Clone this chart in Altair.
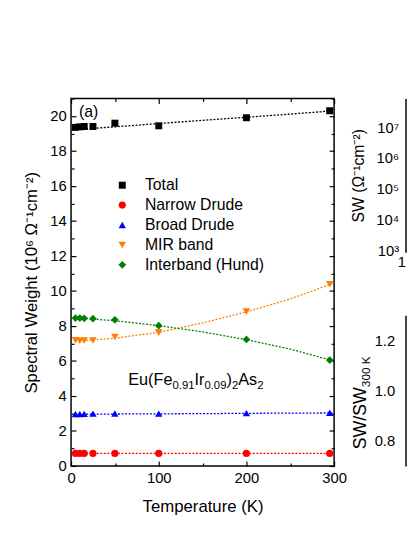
import altair as alt
import pandas as pd

FONT = "Liberation Sans"

# ---------------- data ----------------
temps = [5, 10, 15, 25, 50, 100, 200, 295]
total = [19.35, 19.38, 19.40, 19.40, 19.59, 19.44, 19.90, 20.30]
narrow_drude = [0.72, 0.72, 0.72, 0.72, 0.72, 0.72, 0.72, 0.72]
broad_drude = [2.97, 2.97, 2.98, 2.99, 3.00, 2.99, 3.02, 3.04]
mir_band = [7.18, 7.16, 7.17, 7.17, 7.37, 7.62, 8.82, 10.38]
interband = [8.45, 8.45, 8.44, 8.42, 8.35, 8.02, 7.23, 6.05]

fit_temps = [5, 50, 100, 150, 200, 250, 298]
total_fit = [19.22, 19.38, 19.57, 19.75, 19.93, 20.11, 20.29]
narrow_fit = [0.72, 0.72, 0.72, 0.72, 0.72, 0.72, 0.72]
broad_fit = [2.96, 2.97, 2.98, 2.99, 3.01, 3.02, 3.03]
mir_fit = [7.13, 7.30, 7.64, 8.18, 8.80, 9.55, 10.42]
inter_fit = [8.47, 8.30, 8.02, 7.66, 7.22, 6.68, 6.02]

series_names = ["Total", "Narrow Drude", "Broad Drude", "MIR band", "Interband (Hund)"]
x_ticks_major = [0, 100, 200, 300]
x_ticks_minor = [50, 150, 250]
y_ticks_major = [0, 2, 4, 6, 8, 10, 12, 14, 16, 18, 20]
y_ticks_minor = [1, 3, 5, 7, 9, 11, 13, 15, 17, 19, 21]
log_sw_ticks = [1e3, 1e4, 1e5, 1e6, 1e7]
ratio_ticks = [0.8, 1.0, 1.2]

# ---------------- styles ----------------
colors = ["#000000", "#FF0000", "#0000FF", "#FF8000", "#008000"]
shapes = ["square", "circle", "triangle-up", "triangle-down", "diamond"]
sizes = [50, 62, 85, 85, 90]

pt_series = [total, narrow_drude, broad_drude, mir_band, interband]
fit_series = [total_fit, narrow_fit, broad_fit, mir_fit, inter_fit]

pts = pd.DataFrame(
    [{"T": t, "SW": v, "series": name}
     for name, vals in zip(series_names, pt_series)
     for t, v in zip(temps, vals)]
)
fits = pd.DataFrame(
    [{"T": t, "SW": v, "series": name}
     for name, vals in zip(series_names, fit_series)
     for t, v in zip(fit_temps, vals)]
)

W, H = 267, 373
x_scale = alt.Scale(domain=[0, 300], nice=False, zero=False)
y_scale = alt.Scale(domain=[0, 21], nice=False, zero=False)

color_scale = alt.Scale(domain=series_names, range=colors)
shape_scale = alt.Scale(domain=series_names, range=shapes)
size_scale = alt.Scale(domain=series_names, range=sizes)

legend = alt.Legend(
    orient="none", legendX=44, legendY=80, title=None, padding=0,
    labelFont=FONT, labelFontSize=16, labelColor="black",
    labelOffset=15, rowPadding=4.2, symbolStrokeWidth=0,
)

main_x_axis = alt.Axis(
    orient="bottom", values=x_ticks_major, ticks=False, domain=False, grid=False,
    labelFlush=False, labelOverlap=False, labelPadding=5, labelFontSize=15,
    title="Temperature (K)", titleFontSize=17, titlePadding=13,
)
main_y_axis = alt.Axis(
    orient="left", values=y_ticks_major, ticks=False, domain=False, grid=False,
    labelFlush=False, labelOverlap=False, labelPadding=5, labelFontSize=15,
    title="Spectral Weight (10\u2076 \u03a9\u207b\u00b9cm\u207b\u00b2)",
    titleFontSize=17, titlePadding=9,
)

points = alt.Chart(pts).mark_point(filled=True, opacity=1, strokeWidth=0).encode(
    x=alt.X("T:Q", scale=x_scale, axis=main_x_axis),
    y=alt.Y("SW:Q", scale=y_scale, axis=main_y_axis),
    color=alt.Color("series:N", scale=color_scale, legend=legend, sort=series_names),
    shape=alt.Shape("series:N", scale=shape_scale, legend=legend, sort=series_names),
    size=alt.Size("series:N", scale=size_scale, legend=legend, sort=series_names),
)

line_layers = [
    alt.Chart(fits).transform_filter(alt.datum.series == name)
    .mark_line(strokeDash=[2, 1.6], strokeWidth=1.3, color=col)
    .encode(x=alt.X("T:Q", scale=x_scale, axis=None),
            y=alt.Y("SW:Q", scale=y_scale, axis=None))
    for name, col in zip(series_names, colors)
]


def inner_axis(orient, offset, values, size):
    return alt.Axis(orient=orient, offset=offset, values=values, tickSize=size,
                    tickWidth=1.2, tickColor="black", labels=False, domain=False,
                    grid=False, title=None)


def tick_layer(xaxis, yaxis):
    return alt.Chart(pts).mark_point(opacity=0, size=1, strokeWidth=0).encode(
        x=alt.X("T:Q", scale=x_scale, axis=xaxis),
        y=alt.Y("SW:Q", scale=y_scale, axis=yaxis),
    )


ticks = [
    tick_layer(inner_axis("top", -H, x_ticks_major, 5), inner_axis("right", -W, y_ticks_major, 5)),
    tick_layer(inner_axis("top", -H, x_ticks_minor, 3), inner_axis("right", -W, y_ticks_minor, 3)),
    tick_layer(inner_axis("bottom", -H, x_ticks_major, 5), inner_axis("left", -W, y_ticks_major, 5)),
    tick_layer(inner_axis("bottom", -H, x_ticks_minor, 3), inner_axis("left", -W, y_ticks_minor, 3)),
]

# ---- text helpers ----
CW = {'E': .667, 'u': .556, '(': .333, 'F': .611, 'e': .556, '.': .278, 'I': .278,
      'r': .333, ')': .333, 'A': .667, 's': .5, 'S': .667, 'W': .944, '/': .278,
      ' ': .278, 'K': .667}


def tw(s, size):
    return sum(CW.get(c, .556) for c in s) * size


def piece(s, x, y, size, angle=0):
    return alt.Chart(pd.DataFrame({"t": [s]})).mark_text(
        align="left", baseline="alphabetic", font=FONT, fontSize=size,
        color="black", angle=angle,
    ).encode(text="t:N", x=alt.value(x), y=alt.value(y))


texts = [piece("(a)", 8, 19, 16)]
formula = [("Eu(Fe", 16.5, 0), ("0.91", 11.5, 4), ("Ir", 16.5, 0), ("0.09", 11.5, 4),
           (")", 16.5, 0), ("2", 11.5, 4), ("As", 16.5, 0), ("2", 11.5, 4)]
cx = 58
for s, fs, dy in formula:
    texts.append(piece(s, cx, 291 + dy, fs))
    cx += tw(s, fs)

left = alt.layer(*line_layers, *ticks, points, *texts).resolve_axis(
    x="independent", y="independent"
).properties(width=W, height=H)

# ---------------- right column (panels cut by the window edge) ----------------
RW = 0.5
no_frame = alt.ViewConfig(stroke="transparent")
sw_abs = pd.DataFrame(
    [{"T": t, "SW": v * 1e6, "series": name}
     for name, vals in zip(series_names, pt_series)
     for t, v in zip(temps, vals)]
)
sup = "['\u2070','\u00b9','\u00b2','\u00b3','\u2074','\u2075','\u2076','\u2077','\u2078','\u2079']"
top_right = alt.Chart(sw_abs).mark_point(opacity=0, size=0.1, strokeWidth=0).encode(
    x=alt.X("T:Q", scale=alt.Scale(type="log", domain=[1, 300], nice=False),
            axis=alt.Axis(values=[1], ticks=False, domain=False, grid=False,
                          labelFlush=False, labelAlign="right", labelPadding=3,
                          labelFontSize=15, title=None)),
    y=alt.Y("SW:Q", scale=alt.Scale(type="log", domain=[10 ** 2.94, 10 ** 7.93], nice=False),
            axis=alt.Axis(values=log_sw_ticks, ticks=False, domain=True, domainColor="black",
                          domainWidth=1.5, grid=False,
                          labelFlush=False, labelPadding=7, labelFontSize=15,
                          labelExpr="'10' + " + sup + "[round(log(datum.value)/LN10)]",
                          title="SW (\u03a9\u207b\u00b9cm\u207b\u00b2)", titleFontSize=16,
                          titlePadding=10)),
).properties(width=RW, height=156, view=no_frame)

ratio = pd.DataFrame(
    [{"T": t, "R": v / vals[-1], "series": name}
     for name, vals in zip(series_names, pt_series)
     for t, v in zip(temps, vals)]
)
bottom_pts = alt.Chart(ratio).transform_filter(
    (alt.datum.R >= 0.7) & (alt.datum.R <= 1.3)
).mark_point(opacity=0, size=0.1, strokeWidth=0).encode(
    x=alt.X("T:Q", scale=alt.Scale(domain=[0, 300], nice=False),
            axis=alt.Axis(values=[0], ticks=False, domain=False, grid=False,
                          labels=False, title=None)),
    y=alt.Y("R:Q", scale=alt.Scale(domain=[0.7, 1.3], nice=False, zero=False),
            axis=alt.Axis(values=ratio_ticks, format=".1f", ticks=False, domain=True,
                          domainColor="black", domainWidth=1.5,
                          grid=False, labelFlush=False, labelPadding=11, labelFontSize=15,
                          title=None)),
)
rt = []
cy = 136
for s, fs, dx in [("SW/SW", 18, 0), ("300 K", 12, 4)]:
    rt.append(piece(s, -40 + dx, cy, fs, angle=270))
    cy -= tw(s, fs)
bottom_right = alt.layer(bottom_pts, *rt).properties(width=RW, height=153, view=no_frame)

right_col = alt.vconcat(top_right, bottom_right, spacing=44)

chart = alt.hconcat(left, right_col, spacing=1.5).properties(
    padding={"left": 14, "top": 86, "right": 0, "bottom": 3}
).configure_view(stroke="black", strokeWidth=1.5).configure_axis(
    labelFont=FONT, titleFont=FONT, labelColor="black", titleColor="black",
    titleFontWeight="normal",
).configure_legend(labelFont=FONT)

chart.save("out.html", embed_options={"renderer": "svg", "actions": False})
